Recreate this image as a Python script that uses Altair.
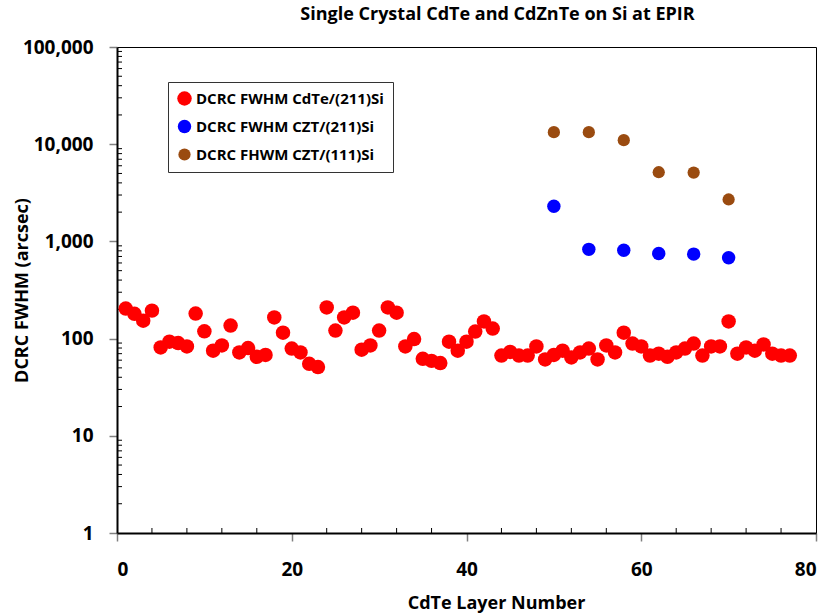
import altair as alt
import pandas as pd

# ---- data ----
cdte_layers = list(range(1, 78))
cdte_fwhm = [204, 180, 153, 194, 81, 93, 90, 83, 181, 119,
             75, 85, 136, 72, 80, 65, 68, 165, 115, 79,
             72, 55, 51, 209, 121, 165, 185, 77, 85, 121,
             209, 185, 83, 99, 62, 59, 56, 93, 75, 93,
             118, 150, 127, 67, 73, 67, 67, 83, 61, 68,
             75, 64, 72, 79, 61, 85, 72, 115, 89, 83,
             67, 70, 65, 72, 79, 89, 67, 83, 83, 150,
             70, 81, 75, 87, 70, 67, 67]
czt211_layers = [50, 54, 58, 62, 66, 70]
czt211_fwhm = [2300, 828, 810, 750, 740, 680]
czt111_layers = [50, 54, 58, 62, 66, 70]
czt111_fwhm = [13300, 13300, 11000, 5150, 5100, 2700]

series_names = ["DCRC FWHM CdTe/(211)Si", "DCRC FWHM CZT/(211)Si", "DCRC FHWM CZT/(111)Si"]
series_colors = ["#FF0000", "#0000FF", "#9A4B10"]
series_sizes = [210, 150, 85]

y_major = [1, 10, 100, 1000, 10000, 100000]
y_minor = [m * d for d in [1, 10, 100, 1000, 10000] for m in range(2, 10)]
x_major = [0, 20, 40, 60, 80]
x_minor = [v for v in range(4, 80, 4) if v % 20 != 0]

rows = []
for lx, v in zip(cdte_layers, cdte_fwhm):
    rows.append({"layer": lx, "fwhm": v, "series": series_names[0]})
for lx, v in zip(czt211_layers, czt211_fwhm):
    rows.append({"layer": lx, "fwhm": v, "series": series_names[1]})
for lx, v in zip(czt111_layers, czt111_fwhm):
    rows.append({"layer": lx, "fwhm": v, "series": series_names[2]})
df = pd.DataFrame(rows)

W, H = 699, 486
FONT = "Open Sans"

xscale = alt.Scale(domain=[0, 80], nice=False, zero=False)
yscale = alt.Scale(type="log", domain=[1, 100000], nice=False)

points = alt.Chart(df).mark_circle(opacity=1).encode(
    x=alt.X("layer:Q", scale=xscale,
            axis=alt.Axis(values=x_major, title="CdTe Layer Number",
                          titleX=379, titleY=75, titleBaseline="alphabetic",
                          titleAlign="center", labelPadding=19)),
    y=alt.Y("fwhm:Q", scale=yscale,
            axis=alt.Axis(values=y_major, format=",", title="DCRC FWHM (arcsec)",
                          titleX=-95, titleY=243, titleAngle=270,
                          titleBaseline="middle", titleAlign="center",
                          labelPadding=16)),
    color=alt.Color("series:N",
                    scale=alt.Scale(domain=series_names, range=series_colors),
                    legend=alt.Legend(title=None, orient="none", legendX=51, legendY=35,
                                      strokeColor="#333333", fillColor="white",
                                      padding=9, rowPadding=12,
                                      labelFont=FONT, labelFontSize=15,
                                      labelFontWeight="bold", labelColor="black",
                                      labelLimit=400, symbolType="circle",
                                      symbolStrokeWidth=0)),
    size=alt.Size("series:N",
                  scale=alt.Scale(domain=series_names, range=series_sizes),
                  legend=None),
    order=alt.Order("layer:Q"),
)

ydf = pd.DataFrame({"fwhm": y_minor})
yminor = alt.Chart(ydf).mark_rule(color="black", strokeWidth=1).encode(
    y=alt.Y("fwhm:Q", scale=yscale),
    x=alt.value(0),
    x2=alt.value(5),
)

xdf = pd.DataFrame({"layer": x_minor})
xminor = alt.Chart(xdf).mark_rule(color="black", strokeWidth=1).encode(
    x=alt.X("layer:Q", scale=xscale),
    y=alt.value(H),
    y2=alt.value(H - 5),
)

chart = alt.layer(yminor, xminor, points).properties(
    width=W, height=H,
    autosize=alt.AutoSizeParams(type="none"),
    padding={"left": 117, "top": 47, "right": 12, "bottom": 81},
    title=alt.TitleParams("Single Crystal CdTe and CdZnTe on Si at EPIR",
                          font=FONT, fontSize=18, fontWeight="bold",
                          color="black", anchor="middle", dx=31, offset=14),
).configure_view(
    stroke="black", strokeWidth=1
).configure_axis(
    grid=False,
    domainColor="black", domainWidth=2,
    tickColor="#808080", tickSize=8, tickWidth=1.5,
    labelFont=FONT, labelFontSize=19, labelFontWeight="bold", labelColor="black",
    titleFont=FONT, titleFontSize=18, titleFontWeight="bold", titleColor="black",
)

chart.save("out.html", embed_options={"renderer": "svg", "actions": False})
